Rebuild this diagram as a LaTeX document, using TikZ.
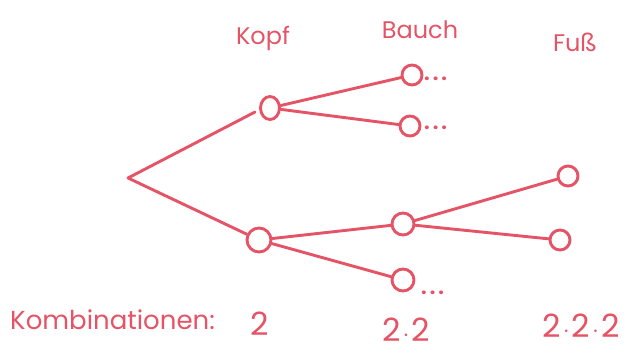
\documentclass[tikz,border=0pt]{standalone}
\usepackage{fontspec}
\usetikzlibrary{shapes.geometric}
\setmainfont{Poppins}
\definecolor{pen}{HTML}{E55466}
\begin{document}
\begin{tikzpicture}[x=1pt,y=-1pt,
  pen/.style={draw=pen,line width=2.9pt,line cap=round,line join=round},
  knot/.style={pen,ellipse,minimum width=19pt,minimum height=23pt,inner sep=0pt,fill=white},
  small/.style={pen,circle,minimum size=20pt,inner sep=0pt,fill=white},
  lbl/.style={text=pen,font=\fontsize{24}{26}\selectfont,inner sep=0pt},
  dots/.style={text=pen,font=\bfseries\fontsize{20}{22}\selectfont,inner sep=0pt,anchor=west}]
\useasboundingbox (0,0) rectangle (631,356);
\coordinate (root) at (128,178);
\node[knot] (k1) at (270,108) {};
\node[knot,minimum width=24pt,minimum height=24pt] (k2) at (259,240) {};
\node[small] (b1) at (412,75) {};
\node[small] (b2) at (410,126) {};
\node[small,minimum size=22pt] (b3) at (403,224) {};
\node[small,minimum size=22pt] (b4) at (403,280) {};
\node[small] (f1) at (568,176) {};
\node[small] (f2) at (560,240) {};
\draw[pen] (root) -- (255,112);
\draw[pen] (root) -- (k2);
\draw[pen] (k1) -- (b1);
\draw[pen] (k1) -- (b2);
\draw[pen] (k2) -- (b3);
\draw[pen] (k2) -- (b4);
\draw[pen] (b3) -- (f1);
\draw[pen] (b3) -- (f2);
\node[dots] (d1) at (424,79) {.\kern3pt.\kern3pt.};
\node[dots] (d2) at (424,128) {.\kern3pt.\kern3pt.};
\node[dots] (d3) at (421,293) {.\kern3pt.\kern3pt.};
\node[lbl] (hk) at (263,38) {Kopf};
\node[lbl] (hb) at (420,30) {Bauch};
\node[lbl] (hf) at (575,42) {Fuß};
\node[lbl,anchor=west,font=\fontsize{26}{28}\selectfont] (komb) at (10,320) {Kombinationen:};
\node[lbl,font=\fontsize{32}{34}\selectfont] (c1) at (260,324) {2};
\node[lbl,font=\fontsize{32}{34}\selectfont] (c2) at (406,330) {2\kern2pt$\cdot$\kern2pt2};
\node[lbl,font=\fontsize{32}{34}\selectfont] (c3) at (581,326) {2\kern2pt$\cdot$\kern2pt2\kern2pt$\cdot$\kern2pt2};
\end{tikzpicture}
\end{document}
